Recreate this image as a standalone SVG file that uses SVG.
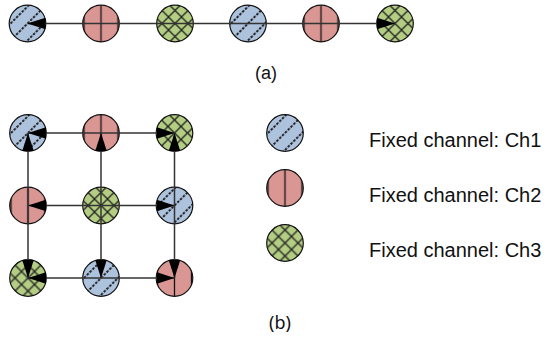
<svg xmlns="http://www.w3.org/2000/svg" width="549" height="338" viewBox="0 0 549 338">
  <style>
    .node { stroke: #111; stroke-width: 1.2; }
    .ch1 { fill: url(#p-ch1); }
    .ch2 { fill: url(#p-ch2); }
    .ch3 { fill: url(#p-ch3); }
    .conn { stroke: #333; stroke-width: 1.5; fill: none; marker-start: url(#arr); marker-end: url(#arr); }
    .legend { font-family: "Liberation Sans", Arial, sans-serif; font-size: 20px; fill: #111; }
    .cap { font-family: "Liberation Sans", Arial, sans-serif; font-size: 18px; fill: #111; text-anchor: middle; }
  </style>
  <defs>
    <pattern id="p-ch1" patternUnits="userSpaceOnUse" x="0" y="-6" width="12" height="12" patternTransform="rotate(-45)">
      <rect width="12" height="12" fill="#adc2dd"/>
      <line x1="0" y1="6" x2="12" y2="6" stroke="#222" stroke-width="2" stroke-dasharray="2.5 1.5"/>
    </pattern>
    <pattern id="p-ch2" patternUnits="userSpaceOnUse" x="-8.5" y="0" width="17" height="17">
      <rect width="17" height="17" fill="#d99692"/>
      <line x1="8.5" y1="0" x2="8.5" y2="17" stroke="#111" stroke-width="1.3"/>
    </pattern>
    <pattern id="p-ch3" patternUnits="userSpaceOnUse" x="-6.5" y="-6.5" width="13" height="13">
      <rect width="13" height="13" fill="#b3cd82"/>
      <path d="M0,0 L13,13 M0,13 L13,0" stroke="#222" stroke-width="1.3"/>
    </pattern>
    <marker id="arr" viewBox="0 -6 18 12" refX="18" refY="0" markerWidth="18" markerHeight="12" markerUnits="userSpaceOnUse" orient="auto-start-reverse">
      <path d="M0,-5.8 L18,0 L0,5.8 z" fill="#000"/>
    </marker>
  </defs>

  <!-- (a) chain nodes -->
  <g id="a1" transform="translate(27.5,23.5)"><circle class="node ch1" r="18.3"/></g>
  <g id="a2" transform="translate(101,23.5)"><circle class="node ch2" r="18.3"/></g>
  <g id="a3" transform="translate(175,23.5)"><circle class="node ch3" r="18.3"/></g>
  <g id="a4" transform="translate(248,23.5)"><circle class="node ch1" r="18.3"/></g>
  <g id="a5" transform="translate(321,23.5)"><circle class="node ch2" r="18.3"/></g>
  <g id="a6" transform="translate(395,23.5)"><circle class="node ch3" r="18.3"/></g>

  <!-- (b) grid nodes -->
  <g id="b11" transform="translate(28,133)"><circle class="node ch1" r="18.3"/></g>
  <g id="b12" transform="translate(101,133)"><circle class="node ch2" r="18.3"/></g>
  <g id="b13" transform="translate(174.5,133)"><circle class="node ch3" r="18.3"/></g>
  <g id="b21" transform="translate(28,205.5)"><circle class="node ch2" r="18.3"/></g>
  <g id="b22" transform="translate(101,205.5)"><circle class="node ch3" r="18.3"/></g>
  <g id="b23" transform="translate(174.5,205.5)"><circle class="node ch1" r="18.3"/></g>
  <g id="b31" transform="translate(28,278)"><circle class="node ch3" r="18.3"/></g>
  <g id="b32" transform="translate(101,278)"><circle class="node ch1" r="18.3"/></g>
  <g id="b33" transform="translate(174.5,278)"><circle class="node ch2" r="18.3"/></g>

  <!-- connectors -->
  <g id="connectors">
    <line class="conn" x1="27.5" y1="23.5" x2="395" y2="23.5"/>
    <line class="conn" x1="28" y1="133" x2="174.5" y2="133"/>
    <line class="conn" x1="28" y1="205.5" x2="174.5" y2="205.5"/>
    <line class="conn" x1="28" y1="278" x2="174.5" y2="278"/>
    <line class="conn" x1="28" y1="133" x2="28" y2="278"/>
    <line class="conn" x1="101" y1="133" x2="101" y2="278"/>
    <line class="conn" x1="174.5" y1="133" x2="174.5" y2="278"/>
  </g>

  <!-- legend -->
  <g id="legend-ch1">
    <g transform="translate(285,133)"><circle class="node ch1" r="18.3"/></g>
    <text class="legend" x="369" y="146.5">Fixed channel: Ch1</text>
  </g>
  <g id="legend-ch2">
    <g transform="translate(285,188)"><circle class="node ch2" r="18.3"/></g>
    <text class="legend" x="369" y="201.5">Fixed channel: Ch2</text>
  </g>
  <g id="legend-ch3">
    <g transform="translate(285,243)"><circle class="node ch3" r="18.3"/></g>
    <text class="legend" x="369" y="256.5">Fixed channel: Ch3</text>
  </g>

  <!-- captions -->
  <text class="cap" x="266" y="79">(a)</text>
  <text class="cap" x="280" y="329" style="font-family:'Noto Sans', sans-serif;">(b)</text>
</svg>
